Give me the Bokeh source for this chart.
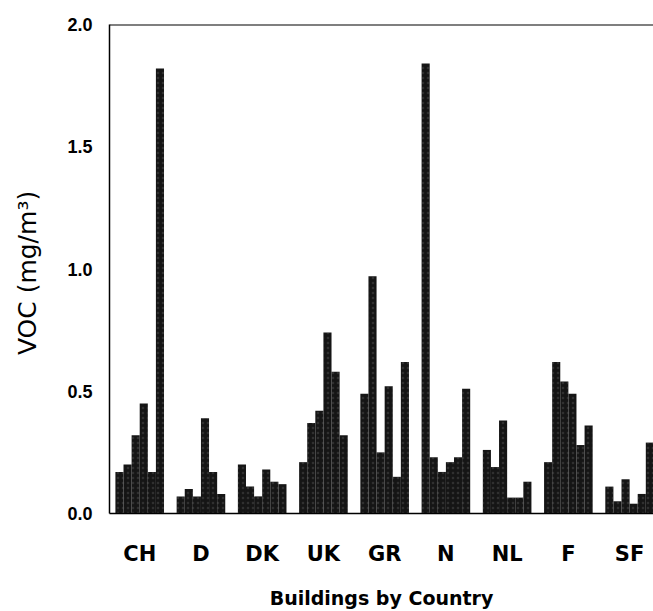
from bokeh.plotting import figure
from bokeh.models import ColumnDataSource, Range1d, FixedTicker, Span, CustomJSTickFormatter
from bokeh.embed import file_html
from bokeh.resources import INLINE

# ---- data ----
countries = ["CH", "D", "DK", "UK", "GR", "N", "NL", "F", "SF"]
ch = [0.17, 0.20, 0.32, 0.45, 0.17, 1.82]
d = [0.07, 0.10, 0.07, 0.39, 0.17, 0.08]
dk = [0.20, 0.11, 0.07, 0.18, 0.13, 0.12]
uk = [0.21, 0.37, 0.42, 0.74, 0.58, 0.32]
gr = [0.49, 0.97, 0.25, 0.52, 0.15, 0.62]
n = [1.84, 0.23, 0.17, 0.21, 0.23, 0.51]
nl = [0.26, 0.19, 0.38, 0.065, 0.065, 0.13]
f = [0.21, 0.62, 0.54, 0.49, 0.28, 0.36]
sf = [0.11, 0.05, 0.14, 0.04, 0.08, 0.29]
y_ticks = [0.0, 0.5, 1.0, 1.5, 2.0]

series = [ch, d, dk, uk, gr, n, nl, f, sf]
GROUP_PITCH = 7.56   # slots per country group (6 bars + gap)

xs, tops = [], []
for g, vals in enumerate(series):
    for i, v in enumerate(vals):
        xs.append(g * GROUP_PITCH + i + 0.5)
        tops.append(v)
src = ColumnDataSource(dict(x=xs, top=tops))
centers = [g * GROUP_PITCH + len(series[g]) / 2 for g in range(len(countries))]

FONT = "Liberation Sans"
WIDE = "DejaVu Sans"

p = figure(width=653, height=611,
           x_range=Range1d(-0.73, 66.43), y_range=Range1d(0, 2.0),
           output_backend="svg", toolbar_location=None,
           min_border_left=109, min_border_right=0,
           min_border_top=24, min_border_bottom=98)

p.vbar(x="x", top="top", bottom=0, width=1.0, source=src,
       fill_color="#151515", line_color=None,
       hatch_pattern="dot", hatch_color="#9a9a9a", hatch_alpha=0.2, hatch_scale=5)

p.grid.visible = False
p.outline_line_color = None
p.background_fill_color = "white"
p.border_fill_color = "white"

p.add_layout(Span(location=2.0, dimension="width", line_color="black", line_width=2))

# y axis
ya = p.yaxis[0]
ya.ticker = FixedTicker(ticks=y_ticks)
ya.formatter = CustomJSTickFormatter(code="return tick.toFixed(1);")
ya.axis_line_color = "black"
ya.axis_line_width = 1.5
ya.major_tick_line_color = None
ya.minor_tick_line_color = None
ya.major_tick_out = 0
ya.major_tick_in = 0
ya.minor_tick_out = 0
ya.minor_tick_in = 0
ya.major_label_standoff = 17
ya.major_label_text_font = FONT
ya.major_label_text_font_style = "bold"
ya.major_label_text_font_size = "18px"
ya.major_label_text_color = "black"
ya.axis_label = "VOC  (mg/m³)"
ya.axis_label_text_font = WIDE
ya.axis_label_text_font_style = "normal"
ya.axis_label_text_font_size = "25px"
ya.axis_label_text_color = "black"
ya.axis_label_standoff = 22

# x axis
xa = p.xaxis[0]
xa.ticker = FixedTicker(ticks=centers)
xa.formatter = CustomJSTickFormatter(args=dict(labels=countries), code="return labels[index];")
xa.axis_line_color = "black"
xa.axis_line_width = 1.5
xa.major_tick_line_color = None
xa.minor_tick_line_color = None
xa.major_tick_out = 0
xa.major_tick_in = 0
xa.minor_tick_out = 0
xa.minor_tick_in = 0
xa.major_label_standoff = 28
xa.major_label_text_font = WIDE
xa.major_label_text_font_style = "bold"
xa.major_label_text_font_size = "21px"
xa.major_label_text_color = "black"
xa.axis_label = "Buildings by Country"
xa.axis_label_text_font = WIDE
xa.axis_label_text_font_style = "bold"
xa.axis_label_text_font_size = "19px"
xa.axis_label_text_color = "black"
xa.axis_label_standoff = 18

open("out.html", "w").write(file_html(p, INLINE))
